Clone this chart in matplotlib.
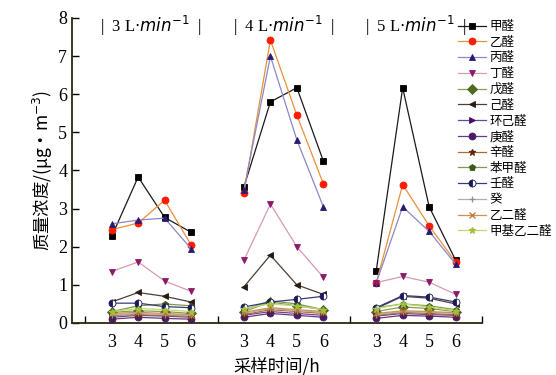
import matplotlib
matplotlib.use("Agg")
import matplotlib.pyplot as plt
import numpy as np

# sampling hours within each flow-rate group, and the three flow rates
hours = [3, 4, 5, 6]
flows = ["3", "4", "5"]

names = ["甲醛", "乙醛", "丙醛", "丁醛", "戊醛", "己醛", "环己醛", "庚醛",
         "辛醛", "苯甲醛", "壬醛", "癸", "乙二醛", "甲基乙二醛"]

# values per compound: 3 L/min (3-6 h), 4 L/min (3-6 h), 5 L/min (3-6 h)
jiaquan = [2.27, 3.83, 2.77, 2.38, 3.57, 5.80, 6.17, 4.25, 1.37, 6.17, 3.05, 1.65]
yiquan = [2.45, 2.62, 3.22, 2.05, 3.42, 7.42, 5.45, 3.65, 1.05, 3.63, 2.55, 1.60]
bingquan = [2.60, 2.70, 2.75, 1.95, 3.50, 7.00, 4.80, 3.05, 1.05, 3.05, 2.40, 1.55]
dingquan = [1.35, 1.60, 1.10, 0.83, 1.65, 3.12, 2.00, 1.20, 1.06, 1.22, 1.07, 0.75]
wuquan = [0.28, 0.32, 0.30, 0.25, 0.30, 0.55, 0.45, 0.35, 0.30, 0.42, 0.38, 0.30]
jiquan = [0.55, 0.80, 0.70, 0.55, 0.95, 1.78, 1.00, 0.75, 0.38, 0.70, 0.65, 0.50]
huanjiquan = [0.15, 0.20, 0.18, 0.15, 0.20, 0.30, 0.25, 0.20, 0.18, 0.25, 0.22, 0.20]
gengquan = [0.10, 0.15, 0.12, 0.10, 0.15, 0.25, 0.20, 0.15, 0.12, 0.20, 0.18, 0.15]
xinquan = [0.20, 0.22, 0.20, 0.18, 0.22, 0.35, 0.30, 0.25, 0.20, 0.28, 0.25, 0.22]
benjiaquan = [0.30, 0.45, 0.50, 0.45, 0.35, 0.58, 0.50, 0.35, 0.40, 0.50, 0.45, 0.35]
renquan = [0.52, 0.52, 0.43, 0.40, 0.42, 0.55, 0.62, 0.70, 0.40, 0.72, 0.68, 0.55]
gui = [0.22, 0.25, 0.22, 0.20, 0.25, 0.38, 0.32, 0.28, 0.22, 0.30, 0.28, 0.25]
yierquan = [0.25, 0.28, 0.25, 0.22, 0.28, 0.40, 0.35, 0.30, 0.25, 0.32, 0.30, 0.27]
jiajiyierquan = [0.30, 0.38, 0.35, 0.30, 0.38, 0.50, 0.45, 0.35, 0.38, 0.50, 0.42, 0.32]

series = [jiaquan, yiquan, bingquan, dingquan, wuquan, jiquan, huanjiquan,
          gengquan, xinquan, benjiaquan, renquan, gui, yierquan, jiajiyierquan]

# (marker, marker colour, line colour)
styles = [("s", "#000000", "#1a1a1a"),
          ("o", "#ff1a00", "#e8903a"),
          ("^", "#2a1a6e", "#8a88c8"),
          ("v", "#8b1a6b", "#d49ab8"),
          ("D", "#4f6b1f", "#8aa050"),
          ("<", "#2a1a10", "#4a4038"),
          (">", "#4b0a6e", "#6a4a8a"),
          ("o", "#4b1a6b", "#6a3a7a"),
          ("*", "#5a2a0a", "#b06a30"),
          ("p", "#3a5a1a", "#7a9a50"),
          ("o", "#1a1a5a", "#3a3a7a"),
          ("+", "#909090", "#b0b0b0"),
          ("x", "#c07030", "#d09050"),
          ("*", "#a0c040", "#c0d870")]

cjk = ["Noto Sans CJK SC", "DejaVu Sans"]

fig = plt.figure(figsize=(5.56, 3.75), dpi=100)
ax = fig.add_axes([0.1295, 0.1387, 0.7375, 0.8133])

for name, vals, (mk, mc, lc) in zip(names, series, styles):
    for g in range(3):
        xs = [1 + 5 * g + i for i in range(4)]
        ys = vals[4 * g:4 * g + 4]
        kw = dict(label=name) if g == 0 else {}
        fs = "left" if name == "壬醛" else "full"
        ax.plot(xs, ys, color=lc, lw=0.9, marker=mk, markersize=5,
                markerfacecolor=mc, markeredgecolor=mc, fillstyle=fs,
                markerfacecoloralt="white",
                markeredgewidth=0.9 if mk in "+x*" else 0.6, **kw)

ax.set_xlim(-0.5, 15)
ax.set_ylim(0, 8)
pos = [1 + 5 * g + i for g in range(3) for i in range(4)]
ax.set_xticks(pos)
ax.set_xticklabels([str(h) for _ in flows for h in hours])
ax.set_xticks([0, 5, 10, 15], minor=True)
ax.tick_params(axis="x", which="major", length=0, pad=8)
ax.tick_params(axis="x", which="minor", direction="in", length=5, width=1)
ax.set_yticks(range(9))
ax.tick_params(axis="y", direction="in", length=5, width=1)
for lab in ax.get_xticklabels() + ax.get_yticklabels():
    lab.set_family("Liberation Serif")
    lab.set_fontsize(13)
for s in ["top", "right"]:
    ax.spines[s].set_visible(False)
for s in ["left", "bottom"]:
    ax.spines[s].set_linewidth(1.3)
    ax.spines[s].set_color("#2a2a10")

for g, f in enumerate(flows):
    ax.text(2.5 + 5 * g, 7.8, "|  " + f + r" L$\cdot$$\mathit{min}^{-1}$  |",
            ha="center", va="center", fontsize=12, family="Liberation Serif")

ax.set_ylabel("质量浓度/(μg·m$^{-3}$)", family=cjk, fontsize=12.5, labelpad=2)
ax.set_xlabel("采样时间/h", family=cjk, fontsize=12.5, labelpad=4)

fig.legend(loc="upper left", bbox_to_anchor=(0.815, 0.96), frameon=False,
           prop={"family": cjk, "size": 9}, handlelength=2.2,
           labelspacing=0.22, handletextpad=0.3, borderaxespad=0)

fig.savefig("out.png", dpi=100)
